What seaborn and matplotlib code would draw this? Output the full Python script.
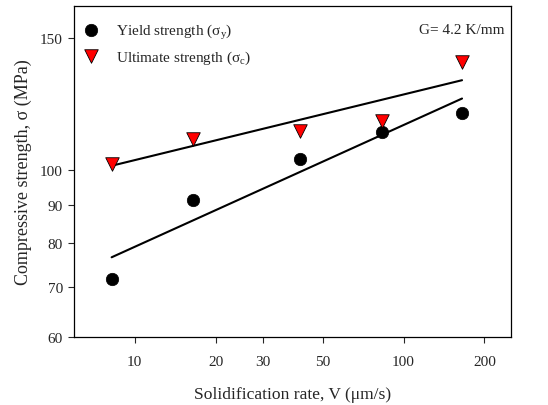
import matplotlib
matplotlib.use("Agg")
import matplotlib.pyplot as plt
import matplotlib.ticker as mticker
import pandas as pd
import seaborn as sns

# solidification rate (um/s)
rate = [8.2, 16.5, 41.3, 82.8, 165.0]
yield_strength = [71.6, 91.2, 103.4, 112.6, 119.2]
ultimate_strength = [102.0, 109.9, 112.9, 116.2, 139.3]

# fitted power-law lines, read at the ends
fit_rate = [8.2, 165.0]
yield_fit = [76.6, 124.6]
ultimate_fit = [101.4, 131.8]

x_ticks = [10, 20, 30, 50, 100, 200]
y_ticks = [60, 70, 80, 90, 100, 150]

sns.set_style("ticks")
plt.rcParams["font.family"] = ["Liberation Serif", "DejaVu Serif"]
plt.rcParams["mathtext.fontset"] = "custom"
plt.rcParams["mathtext.rm"] = "Liberation Serif"
plt.rcParams["mathtext.it"] = "Liberation Serif:italic"

df = pd.DataFrame({"rate": rate, "yield": yield_strength, "ult": ultimate_strength})
fit_df = pd.DataFrame({"rate": fit_rate, "yield": yield_fit, "ult": ultimate_fit})

fig, ax = plt.subplots(figsize=(5.48, 4.06), dpi=100)
fig.subplots_adjust(left=0.135, right=0.9325, top=0.983, bottom=0.1675)

sns.lineplot(data=fit_df, x="rate", y="ult", color="black", linewidth=1.5, ax=ax)
sns.lineplot(data=fit_df, x="rate", y="yield", color="black", linewidth=1.5, ax=ax)
sns.scatterplot(data=df, x="rate", y="yield", marker="o", s=80, color="black",
                edgecolor="black", linewidth=0.5, label="Yield strength (σ$_{\\mathrm{y}}$)", ax=ax, zorder=3)
sns.scatterplot(data=df, x="rate", y="ult", marker="v", s=95, color="#ff0000",
                edgecolor="black", linewidth=0.6, label="Ultimate strength (σ$_{\\mathrm{c}}$)", ax=ax, zorder=3)

ax.set_xscale("log")
ax.set_yscale("log")
ax.set_xlim(5.94, 251)
ax.set_ylim(60, 165.5)
ax.xaxis.set_major_locator(mticker.FixedLocator(x_ticks))
ax.xaxis.set_major_formatter(mticker.FixedFormatter([str(t) for t in x_ticks]))
ax.xaxis.set_minor_locator(mticker.NullLocator())
ax.yaxis.set_major_locator(mticker.FixedLocator(y_ticks))
ax.yaxis.set_major_formatter(mticker.FixedFormatter([str(t) for t in y_ticks]))
ax.yaxis.set_minor_locator(mticker.NullLocator())

ax.tick_params(axis="x", direction="out", length=4, width=0.8, pad=9, labelsize=11)
ax.tick_params(axis="y", direction="out", length=4, width=0.8, pad=4, labelsize=11)
for sp in ax.spines.values():
    sp.set_linewidth(0.9)
    sp.set_color("black")

ax.set_xlabel("Solidification rate, V (μm/s)", fontsize=12.6, labelpad=13)
ax.set_ylabel("Compressive strength, σ (MPa)", fontsize=13, labelpad=6)

ax.text(0.985, 0.93, "G= 4.2 K/mm", transform=ax.transAxes, ha="right", va="center", fontsize=11)

ax.legend(loc="upper left", bbox_to_anchor=(0.011, 0.962), frameon=False, fontsize=11,
          handlelength=1.2, handletextpad=1.05, labelspacing=0.5, borderaxespad=0, borderpad=0.2)

plt.savefig("out.png", dpi=100)
plt.close()
